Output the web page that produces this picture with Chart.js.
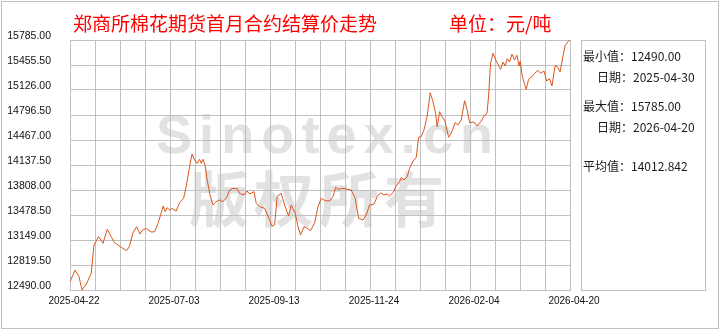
<!DOCTYPE html>
<html>
<head>
<meta charset="utf-8">
<script src="https://cdn.jsdelivr.net/npm/chart.js@4/dist/chart.umd.min.js"></script>
<style>
    body { margin: 0; background: #ffffff; }
    #canvas { display: block; }
</style>
</head>
<body>
<canvas id="canvas" width="720" height="330"></canvas>
<script>
// position of each point on the trading-day axis (0 = 2025-04-22, 250 = 2026-04-20)
let dayIndex = [
    0, 2.6, 4.5, 6, 8.2, 10.6, 12, 14.3, 16.5, 18.6,
    20.6, 22.3, 24, 25.6, 28.3, 29.8, 31.5, 33.3, 35, 36.6,
    38.3, 40.6, 42.3, 44, 45.3, 46.6, 47.6, 48.6, 49.8, 51,
    53.1, 54.8, 56.8, 58.1, 59.5, 61, 62.3, 63.6, 64.8, 65.6,
    66.5, 67.6, 68.6, 70, 71.5, 73.1, 74.8, 76.5, 78.6, 79.8,
    81.5, 83.6, 84.8, 87, 88.5, 89.8, 92, 93.1, 94.8, 97.3,
    99, 101, 102.3, 103.6, 105.6, 107.3, 109.3, 110.6, 112.6, 114,
    115.3, 117, 118.6, 120.3, 122.3, 124, 125.6, 127.6, 129.8, 131.5,
    132.8, 134, 136.5, 139, 140.6, 142.6, 144.3, 146.5, 148.1, 149.8,
    152, 153.6, 155.3, 157, 158.6, 159.8, 161.5, 163.1, 164.8, 165.6,
    167, 168.6, 169.8, 171.5, 173.1, 174.3, 175.6, 177, 178.6, 180.1,
    181.5, 182.8, 183.6, 184.8, 186, 187.3, 188.1, 189.3, 190.6, 192.6,
    194, 195.6, 197.3, 198.6, 199.8, 202, 203.6, 205.6, 207.3, 208.5,
    209.3, 210.3, 211.5, 213.1, 215.3, 216.5, 217.6, 218.6, 219.8, 221,
    222.3, 223.5, 224.5, 225.1, 226.1, 227.3, 228.1, 229.3, 231, 232.3,
    234, 235.3, 237, 238.3, 239.8, 241, 242.6, 244, 245, 246.5,
    247.6, 249.3, 250
];
// settlement price, yuan/ton
let price = [
    12600, 12754, 12665, 12490, 12569, 12710, 13083, 13193, 13105, 13290,
    13193, 13113, 13083, 13053, 13008, 13070, 13245, 13324, 13228, 13290,
    13298, 13254, 13258, 13369, 13479, 13597, 13522, 13575, 13544, 13564,
    13531, 13641, 13699, 13852, 14072, 14282, 14203, 14160, 14213, 14160,
    14213, 14124, 13940, 13742, 13610, 13654, 13676, 13654, 13720, 13808,
    13830, 13825, 13764, 13742, 13795, 13755, 13786, 13633, 13588, 13567,
    13465, 13333, 13347, 13720, 13765, 13610, 13465, 13610, 13501, 13324,
    13215, 13324, 13303, 13272, 13377, 13588, 13699, 13667, 13663, 13720,
    13844, 13817, 13830, 13817, 13808, 13699, 13435, 13413, 13479, 13610,
    13623, 13720, 13772, 13742, 13755, 13729, 13772, 13861, 13917, 13970,
    13940, 13983, 14094, 14190, 14234, 14503, 14511, 14599, 14783, 15090,
    14972, 14819, 14642, 14840, 14774, 14731, 14642, 14503, 14555, 14695,
    14665, 14731, 14985, 14862, 14695, 14704, 14652, 14717, 14793, 14819,
    15047, 15486, 15610, 15508, 15399, 15495, 15442, 15539, 15495, 15597,
    15522, 15584, 15442, 15508, 15310, 15201, 15135, 15267, 15301, 15346,
    15385, 15346, 15376, 15245, 15275, 15179, 15452, 15421, 15364, 15574,
    15715, 15772, 15785
];
let xTickLabels = ['2025-04-22', '2025-07-03', '2025-09-13', '2025-11-24', '2026-02-04', '2026-04-20'];
let yMin = 12490;
let yMax = 15785;
let yStep = 329.5;

let titleText = '郑商所棉花期货首月合约结算价走势';
let unitText = '单位：元/吨';
let statNames = ['最小值：', '日期：', '最大值：', '日期：', '平均值：'];
let statValues = ['12490.00', '2025-04-30', '15785.00', '2026-04-20', '14012.842'];

let points = [];
dayIndex.forEach((d, i) => {
    points.push({ x: d, y: price[i] });
});

const GRID = '#c0c0c0';
const CJK = '"Noto Sans CJK SC", sans-serif';

// watermark behind the grid, frames and texts around it
const decor = {
    id: 'decor',
    beforeDraw(chart) {
        const ctx = chart.ctx;
        ctx.save();
        ctx.fillStyle = '#ffffff';
        ctx.fillRect(0, 0, chart.width, chart.height);

        // "Sinotex.cn", spread letter by letter between 158 and 495
        ctx.fillStyle = '#e2e2e2';
        ctx.font = 'bold 54px "Liberation Sans", sans-serif';
        ctx.textBaseline = 'alphabetic';
        ctx.textAlign = 'left';
        let word = 'Sinotex.cn';
        let widths = word.split('').map(c => ctx.measureText(c).width);
        let total = widths.reduce((a, b) => a + b, 0);
        let gap = (337 - total) / (word.length - 1);
        let x = 156;
        word.split('').forEach((c, i) => {
            ctx.fillText(c, x, 153);
            x += widths[i] + gap;
        });

        // "版权所有"
        ctx.font = 'bold 60px ' + CJK;
        ctx.textBaseline = 'middle';
        '版权所有'.split('').forEach((c, i) => {
            ctx.fillText(c, 189 + i * 65, 199);
        });
        ctx.restore();
    },
    afterDraw(chart) {
        const ctx = chart.ctx;
        ctx.save();
        ctx.strokeStyle = GRID;
        ctx.lineWidth = 1;
        // outer frame and the info box on the right
        ctx.strokeRect(1.5, 1.5, 717, 327);
        ctx.strokeRect(581.5, 40.5, 124, 250);

        // title and unit
        ctx.fillStyle = '#ff0000';
        ctx.font = '19px ' + CJK;
        ctx.textBaseline = 'middle';
        ctx.textAlign = 'left';
        ctx.fillText(titleText, 73, 24);
        ctx.fillText(unitText, 449, 24);

        // min / max / average
        ctx.fillStyle = '#1a1a1a';
        ctx.font = '12px ' + CJK;
        let rows = [56, 77, 106, 127, 166];
        let lefts = [583, 597, 583, 597, 583];
        statNames.forEach((name, i) => {
            ctx.fillText(name, lefts[i], rows[i]);
            let w = ctx.measureText(name).width;
            ctx.fillText(statValues[i], lefts[i] + w, rows[i]);
        });
        ctx.restore();
    }
};

const ctx = document.getElementById('canvas').getContext('2d');
const myChart = new Chart(ctx, {
    type: 'line',
    data: {
        datasets: [{
            label: '结算价',
            data: points,
            borderColor: '#dc561e',
            backgroundColor: '#dc561e',
            borderWidth: 1,
            pointRadius: 0,
            tension: 0
        }]
    },
    options: {
        responsive: false,
        animation: false,
        devicePixelRatio: 1,
        layout: {
            padding: { top: 40, right: 150, bottom: 0, left: 0 }
        },
        plugins: {
            legend: { display: false },
            tooltip: { enabled: false }
        },
        scales: {
            x: {
                type: 'linear',
                min: 0,
                max: 250,
                afterFit: s => { s.height = 40; },
                grid: { color: GRID, lineWidth: 1, drawTicks: false },
                border: { color: GRID },
                ticks: {
                    stepSize: 12.5,
                    autoSkip: false,
                    maxRotation: 0,
                    padding: 5,
                    labelOffset: 4,
                    color: '#111111',
                    font: { family: '"Liberation Sans", sans-serif', size: 10 },
                    callback: v => (v % 50 === 0 ? xTickLabels[v / 50] : '')
                }
            },
            y: {
                min: yMin,
                max: yMax,
                afterFit: s => { s.width = 70; },
                grid: { color: GRID, lineWidth: 1, drawTicks: false },
                border: { color: GRID },
                ticks: {
                    stepSize: yStep,
                    autoSkip: false,
                    padding: 19,
                    labelOffset: -4,
                    color: '#111111',
                    font: { family: '"Liberation Sans", sans-serif', size: 10.5 },
                    callback: v => Number(v).toFixed(2)
                }
            }
        }
    },
    plugins: [decor]
});
</script>
</body>
</html>
